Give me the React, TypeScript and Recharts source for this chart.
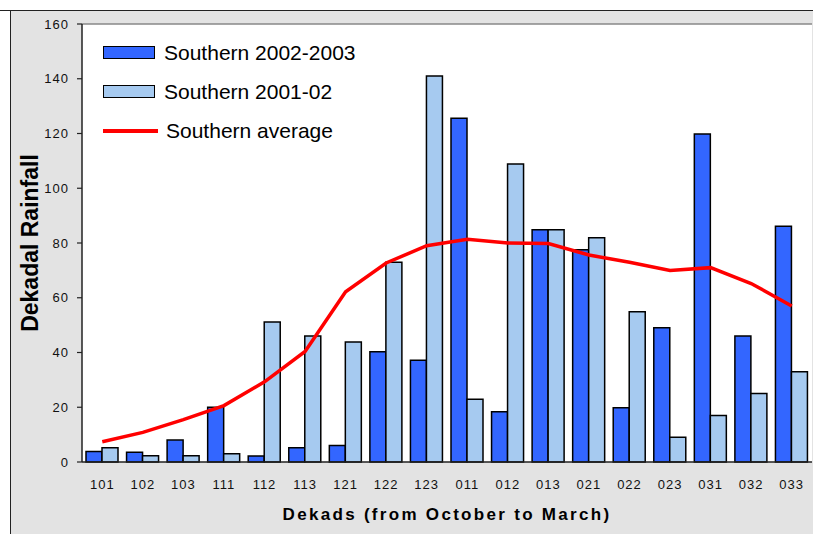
import React from "react";
import {
  ComposedChart,
  Bar,
  Line,
  XAxis,
  YAxis,
  CartesianGrid,
  ReferenceLine,
} from "recharts";

const dekads = ["101", "102", "103", "111", "112", "113", "121", "122", "123", "011", "012", "013", "021", "022", "023", "031", "032", "033"];
const southern0203 = [3.8, 3.6, 8, 20, 2.2, 5.2, 6, 40.3, 37.2, 125.6, 18.4, 84.8, 77.5, 19.8, 49, 119.8, 46, 86.1];
const southern0102 = [5.2, 2.3, 2.3, 3, 51.1, 46, 43.8, 73, 141, 22.9, 108.9, 84.8, 81.9, 54.9, 9, 17, 25, 33];
const southernAvg = [7.4, 10.8, 15.5, 20.6, 29.3, 40.4, 62.2, 72.7, 79, 81.4, 80, 79.8, 75.6, 73, 70, 71, 65.2, 57];
const yTicks = [0, 20, 40, 60, 80, 100, 120, 140, 160];
const boundaryTicks = Array.from({ length: dekads.length + 1 }, (_, i) => i);

const data = dekads.map((d, i) => ({
  dekad: d,
  s0203: southern0203[i],
  s0102: southern0102[i],
  avg: southernAvg[i],
}));

const FONT = "Arial, 'Liberation Sans', sans-serif";
const DARK = "#3366ff";
const LIGHT = "#a6caf0";

const legendItems = [
  { label: "Southern 2002-2003", type: "bar", color: DARK },
  { label: "Southern 2001-02", type: "bar", color: LIGHT },
  { label: "Southern average", type: "line", color: "#ff0000" },
];

function LegendBox() {
  return (
    <div
      style={{
        position: "absolute",
        left: 103,
        top: 33,
        fontFamily: FONT,
        fontSize: 21,
        color: "#000",
      }}
    >
      {legendItems.map((it) => (
        <div key={it.label} style={{ display: "flex", alignItems: "center", height: 39 }}>
          {it.type === "bar" ? (
            <div
              style={{
                width: 50,
                height: 11,
                background: it.color,
                border: "1.5px solid #000",
                marginRight: 9,
              }}
            />
          ) : (
            <div style={{ width: 55, height: 4, background: it.color, marginRight: 8 }} />
          )}
          <span>{it.label}</span>
        </div>
      ))}
    </div>
  );
}

export default function App() {
  return (
    <div style={{ position: "fixed", left: 0, top: 0, width: 813, height: 534, overflow: "hidden", background: "#e3e3e3" }}>
      <div
        style={{
          position: "absolute",
          left: 0,
          top: 0,
          width: 10,
          height: 534,
          background: "#fff",
          borderRight: "1.5px solid #222",
        }}
      />
      <div
        style={{
          position: "absolute",
          left: 0,
          top: 0,
          width: 813,
          height: 10,
          background: "#fff",
          borderBottom: "1.5px solid #222",
        }}
      />
      <ComposedChart
        width={813}
        height={534}
        data={data}
        margin={{ top: 24, right: 1, left: 22, bottom: 0 }}
        barGap={0}
        barSize={16}
        style={{ position: "absolute", left: 0, top: 0 }}
      >
        <CartesianGrid horizontal={false} vertical={false} fill="#fff" />
        <XAxis
          xAxisId="b"
          type="number"
          domain={[0, dekads.length]}
          ticks={boundaryTicks}
          height={0}
          tick={false}
          axisLine={false}
          tickLine={{ stroke: "#222", strokeWidth: 1.2 }}
          tickSize={5}
          allowDataOverflow
        />
        <XAxis
          dataKey="dekad"
          height={72}
          tickLine={false}
          axisLine={{ stroke: "#222", strokeWidth: 1.5 }}
          tick={{ fill: "#111", fontSize: 13, fontFamily: FONT, letterSpacing: 1 }}
          tickMargin={12}
          interval={0}
          label={{
            value: "Dekads (from October to March)",
            position: "insideBottom",
            offset: 14,
            style: { fontFamily: FONT, fontSize: 17, fontWeight: "bold", letterSpacing: 2.3, fill: "#000" },
          }}
        />
        <YAxis
          domain={[0, 160]}
          ticks={yTicks}
          width={60}
          tickSize={5}
          tickMargin={8}
          tickLine={{ stroke: "#222", strokeWidth: 1.2 }}
          axisLine={{ stroke: "#222", strokeWidth: 1.5 }}
          tick={{ fill: "#111", fontSize: 13, fontFamily: FONT, letterSpacing: 1 }}
          label={{
            value: "Dekadal Rainfall",
            angle: -90,
            position: "center",
            dx: -22,
            style: { fontFamily: FONT, fontSize: 23, fontWeight: "bold", fill: "#000" },
          }}
        />
        <ReferenceLine y={160} stroke="#888" strokeWidth={1.5} />
        <ReferenceLine x={dekads.length} xAxisId="b" stroke="#ccc" strokeWidth={1} />
        <Bar dataKey="s0203" name="Southern 2002-2003" fill={DARK} stroke="#000" strokeWidth={1.5} isAnimationActive={false} />
        <Bar dataKey="s0102" name="Southern 2001-02" fill={LIGHT} stroke="#000" strokeWidth={1.5} isAnimationActive={false} />
        <Line
          dataKey="avg"
          name="Southern average"
          type="linear"
          stroke="#ff0000"
          strokeWidth={3.5}
          dot={false}
          activeDot={false}
          isAnimationActive={false}
        />
      </ComposedChart>
      <LegendBox />
    </div>
  );
}
